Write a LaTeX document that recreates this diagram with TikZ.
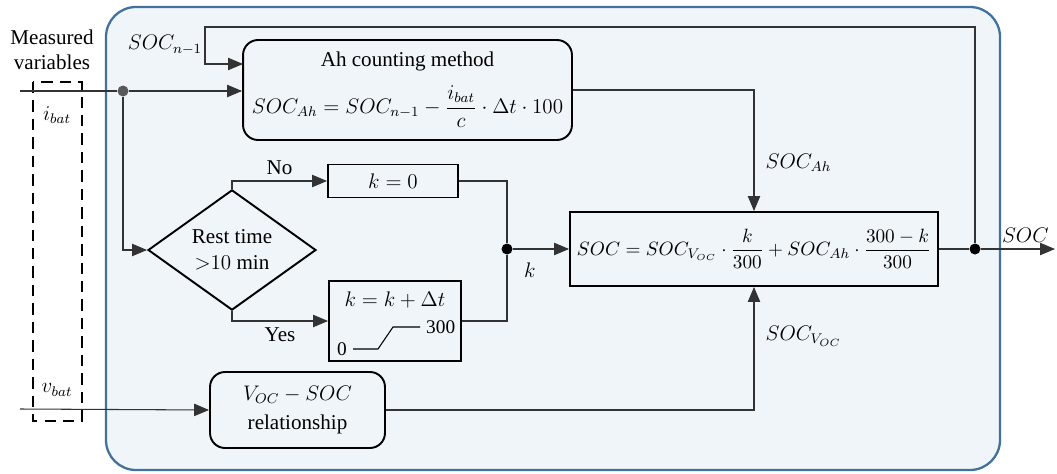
\documentclass[tikz,border=0pt]{standalone}
\usepackage{amsmath}
\usepackage{fontspec}
\setmainfont{Liberation Serif}
\usetikzlibrary{arrows.meta,shapes.geometric}
\definecolor{panelfill}{HTML}{F0F5FA}
\definecolor{panelline}{HTML}{41719C}
\definecolor{wiregray}{HTML}{333333}
\tikzset{
  blockbox/.style={draw=black, line width=1.1pt, align=center, inner sep=0pt},
  roundbox/.style={blockbox, rounded corners=0.3cm},
  decision/.style={diamond, draw=black, line width=1.1pt, minimum width=3.36cm,
    minimum height=2.1cm, inner sep=0pt, align=center},
  junction/.style={circle, fill=black, inner sep=0pt, minimum size=0.22cm},
  wire/.style={draw=wiregray, line width=0.6pt}
}
\begin{document}
\begin{tikzpicture}[x=0.02cm, y=-0.02cm, font=\fontsize{12}{14.5}\selectfont,
    >={Triangle[length=8.5pt,width=7pt]}]
\useasboundingbox (0,0) rectangle (1057,473);
\draw [panelline, fill=panelfill, line width=1.3pt, rounded corners=0.6cm] (106,7) rectangle (1000,470);
\draw [line width=1.1pt, dash pattern=on 6.5pt off 4pt] (33,82) rectangle (82,421);
\node at (52,50) [align=center] {Measured\\variables};
\node at (57,115) {$i_{bat}$};
\node at (57,390) {$v_{bat}$};

\node [roundbox, minimum width=6.58cm, minimum height=2cm] (ah) at (407.5,90)
  {Ah counting method\\[7pt] {\fontsize{11.5}{14}\selectfont
   $SOC_{Ah}=SOC_{n-1}-\dfrac{i_{bat}}{c}\cdot\Delta t\cdot 100$}};
\node [decision] (rest) at (232,250) {Rest time\\${>}10$ min};
\node [blockbox, minimum width=2.6cm, minimum height=0.66cm] (kzero) at (393,181) {$k=0$};
\node [blockbox, minimum width=2.64cm, minimum height=1.6cm] (kinc) at (395,321) {};
\node (kinctext) at (395,300) {$k=k+\Delta t$};
\node [font=\fontsize{11}{13}\selectfont, anchor=east] (rampzero) at (353,349) {0};
\node [font=\fontsize{11}{13}\selectfont, anchor=west] (rampmax) at (420,327) {300};
\draw [line width=0.6pt] (rampzero.east) -- (378,349) -- (393,327) -- (rampmax.west);
\node [blockbox, minimum width=7.36cm, minimum height=1.48cm, font=\fontsize{11}{13}\selectfont]
  (comb) at (754,249)
  {$SOC=SOC_{V_{OC}}\cdot\dfrac{k}{300}+SOC_{Ah}\cdot\dfrac{300-k}{300}$};
\node [roundbox, minimum width=3.5cm, minimum height=1.52cm] (voc) at (297.5,410)
  {$V_{OC}-SOC$\\[2pt] relationship};

\coordinate (ibatin) at (20,91);
\coordinate (vbatin) at (20,409);
\coordinate (socout) at (1055,249);
\coordinate (fbtop) at (205,27);
\coordinate (fbin) at (243,64);
\node [junction, fill=black!65] (split) at (123,91) {};
\node [junction] (kdot) at (507,249) {};
\node [junction] (outdot) at (975,249) {};

\draw [wire, ->] (ibatin) -- (split) -- (split -| ah.west);
\draw [wire, ->] (split) |- (rest.west);
\draw [wire, ->] (vbatin) -- (voc.west);
\draw [wire, ->] (rest.north) |- (kzero.west) node [pos=0.75, above] {No};
\draw [wire, ->] (rest.south) |- (kinc.west) node [pos=0.75, below] {Yes};
\draw [wire] (kzero.east) -| (kdot);
\draw [wire] (kinc.east) -| (kdot);
\draw [wire, ->] (kdot) -- (comb.west) node [pos=0.3, below=4pt] {$k$};
\draw [wire, ->] (ah.east) -| (comb.north) node [pos=0.8, right=3pt] {$SOC_{Ah}$};
\draw [wire, ->] (voc.east) -| (comb.south) node [pos=0.8, right=3pt] {$SOC_{V_{OC}}$};
\draw [wire] (comb.east) -- (outdot);
\draw [wire, ->] (outdot) -- (socout) node [pos=0.6, above] {$SOC$};
\draw [wire, ->] (outdot) |- (fbtop) |- (fbin);
\node at (165,45) {$SOC_{n-1}$};
\end{tikzpicture}
\end{document}
